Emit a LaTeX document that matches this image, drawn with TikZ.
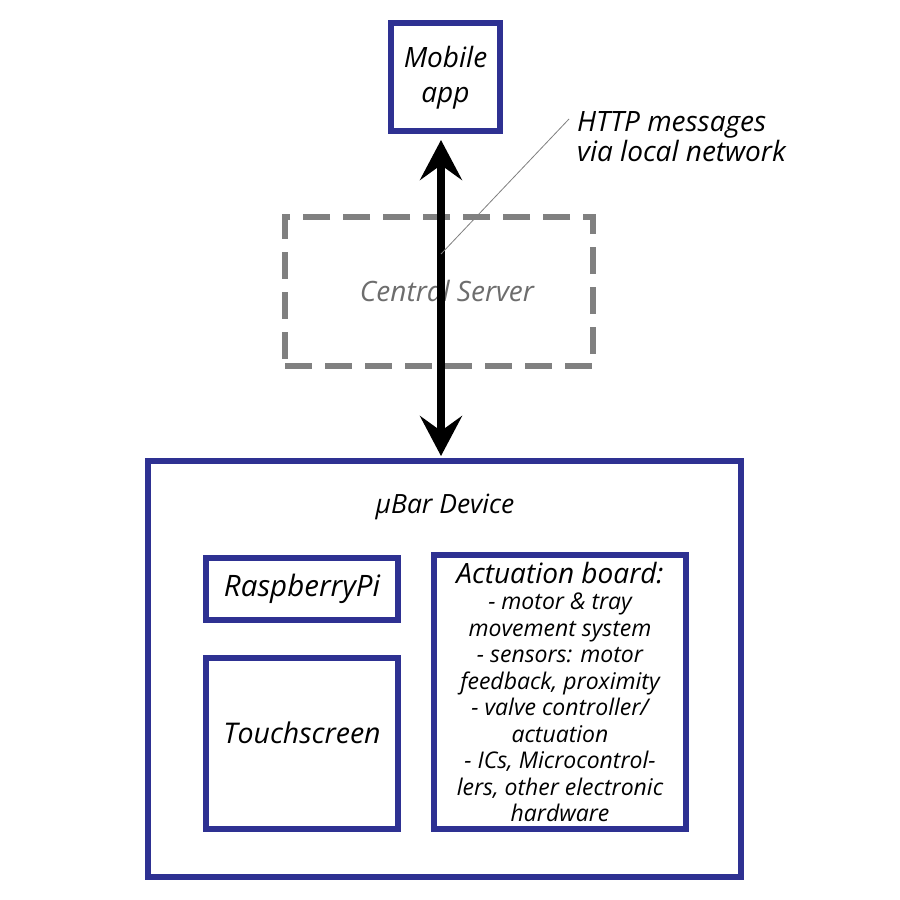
\documentclass[tikz,border=0pt]{standalone}
\usepackage{fontspec}
\setmainfont{Open Sans}
\usetikzlibrary{arrows.meta}
\usetikzlibrary{positioning}
\definecolor{ubarblue}{HTML}{2E3192}
\definecolor{servergray}{HTML}{808080}
\tikzset{
  % every block of the device is a thick blue frame
  block/.style={draw=ubarblue,line width=6pt,fill=white,inner sep=0pt,
    font=\itshape\fontsize{28.5}{30}\selectfont},
  % the server that is not used
  ghost/.style={draw=servergray,line width=6pt,dash pattern=on 27pt off 13pt,
    inner sep=0pt},
  % the two-way link
  link/.style={line width=8pt,
    {Stealth[length=40pt,width=42pt,inset=15pt]}-{Stealth[length=40pt,width=42pt,inset=15pt]}},
  callout/.style={draw=servergray,line width=0.8pt},
}
\begin{document}
\begin{tikzpicture}[x=1pt,y=-1pt]
  \useasboundingbox[fill=white] (0,0) rectangle (900,900);

  \node[ghost,minimum width=308pt,minimum height=149pt] (server) at (439,291.5) {};
  \node[text=servergray!85!black,font=\itshape\fontsize{28}{28}\selectfont] (servertext) at (447,291) {Central Server};

  \node[block,minimum width=109pt,minimum height=108pt,align=center,text depth=6pt,
    font=\itshape\fontsize{28}{35}\selectfont] (mobile) at (445.5,77) {Mobile\\app};

  \node[block,minimum width=593pt,minimum height=416pt] (device) at (444.5,669) {};
  \node[font=\itshape\fontsize{26.5}{28}\selectfont] (devicetext) at (445,507) {µBar Device};

  \node[block,minimum width=192pt,minimum height=62pt,font=\itshape\fontsize{29.5}{30}\selectfont]
    (rpi) at (302,589) {RaspberryPi};
  \node[block,minimum width=192pt,minimum height=171pt,text depth=22pt]
    (touch) at (302,743.5) {Touchscreen};
  \node[block,minimum width=252pt,minimum height=274pt,align=center,
    font=\itshape\fontsize{23}{26.5}\selectfont] (act) at (560,692)
    {{\fontsize{28}{26.5}\selectfont Actuation board:}\\
     - motor \& tray\\ movement system\\ - sensors: motor\\ feedback, proximity\\
     - valve controller/\\ actuation\\ - ICs, Microcontrol-\\ lers, other electronic\\ hardware};

  % link between app and device
  \coordinate (linex) at (441,0);
  \draw[link,shorten <=6pt,shorten >=2pt] (mobile.south -| linex) -- (device.north -| linex);

  % callout for the link
  \node[anchor=north west,align=left,font=\itshape\fontsize{28}{30}\selectfont,inner sep=0pt]
    (http) at (577,111) {HTTP messages\\via local network};
  \coordinate (callstart) at (441,254);
  \coordinate (callend) at (569,119);
  \draw[callout] (callstart) -- (callend);
\end{tikzpicture}
\end{document}
